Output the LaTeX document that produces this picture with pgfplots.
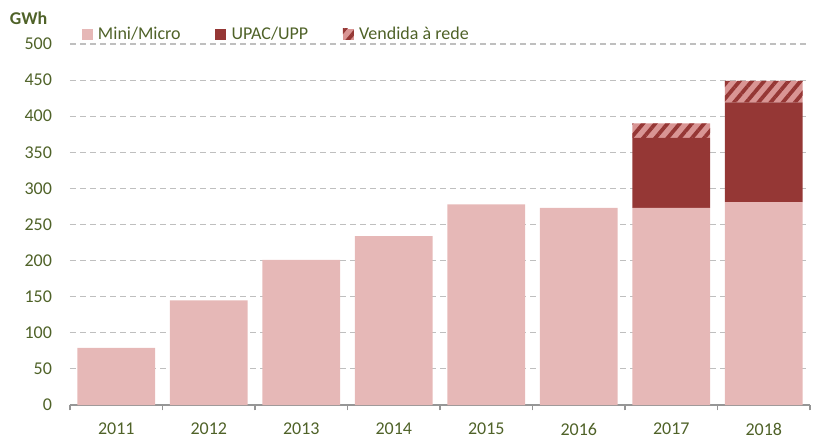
\documentclass[border=0pt]{standalone}
\usepackage{fontspec}
\setmainfont{Carlito}
\usepackage{pgfplots}
\pgfplotsset{compat=1.18}
\usetikzlibrary{patterns.meta}
\definecolor{minipink}{RGB}{230,184,183}
\definecolor{upacred}{RGB}{149,55,53}
\definecolor{hatchbg}{RGB}{217,149,148}
\definecolor{txtgreen}{RGB}{79,98,40}
\definecolor{gridgray}{RGB}{191,191,191}
\definecolor{axgray}{RGB}{150,150,150}

\begin{document}
\begin{tikzpicture}
\begin{axis}[
    scale only axis,
    width=555pt, height=270.75pt,
    ybar stacked,
    bar width=0.84,
    xmin=-0.5, xmax=7.5,
    ymin=0, ymax=500,
    xtick={0,...,7},
    xticklabels={2011,2012,2013,2014,2015,2016,2017,2018},
    minor xtick={-0.5,0.5,...,7.5},
    ytick={0,50,...,500},
    major tick length=0pt,
    minor tick length=4pt,
    tick align=outside,
    xtick pos=bottom,
    ytick pos=left,
    axis x line*=bottom,
    axis y line*=left,
    y axis line style={draw=none},
    x axis line style={draw=axgray, line width=0.8pt},
    minor x tick style={draw=axgray, line width=0.8pt},
    ymajorgrids,
    major grid style={draw=gridgray, line width=0.8pt, dash pattern=on 4.5pt off 3pt},
    /pgf/number format/assume math mode=true,
    tick label style={font=\fontsize{13.5}{16}\selectfont, text=txtgreen},
    y tick label style={xshift=-10pt},
    x tick label style={yshift=-10pt},
    legend style={at={(0.01,1)}, anchor=west, yshift=7pt, draw=none, fill=none,
        legend columns=-1, font=\fontsize{13.5}{16}\selectfont, text=txtgreen,
        /tikz/every odd column/.append style={column sep=2pt},
        /tikz/every even column/.append style={column sep=24pt}},
    legend image code/.code={\fill[#1] (0pt,-4pt) rectangle (8.25pt,4.25pt);},
    clip=false,
]
\addplot[fill=minipink, draw=none] coordinates {(0,79) (1,145) (2,201) (3,234) (4,278) (5,273) (6,273) (7,281)};
\addplot[fill=upacred, draw=none] coordinates {(0,0) (1,0) (2,0) (3,0) (4,0) (5,0) (6,97) (7,138)};
\addplot[draw=none, preaction={fill=hatchbg}, pattern={Lines[angle=50,distance=7pt,line width=2.8pt]}, pattern color=upacred] coordinates {(0,0) (1,0) (2,0) (3,0) (4,0) (5,0) (6,20) (7,30)};
\legend{Mini/Micro, UPAC/UPP, Vendida à rede}
\node[anchor=east, font=\bfseries\fontsize{13.5}{16}\selectfont, text=txtgreen] at ([xshift=-13.5pt, yshift=19pt]rel axis cs:0,1) {GWh};
\path ([xshift=-52.5pt, yshift=-25.5pt]rel axis cs:0,0) ([xshift=3pt, yshift=33pt]rel axis cs:1,1);
\end{axis}
\end{tikzpicture}
\end{document}
